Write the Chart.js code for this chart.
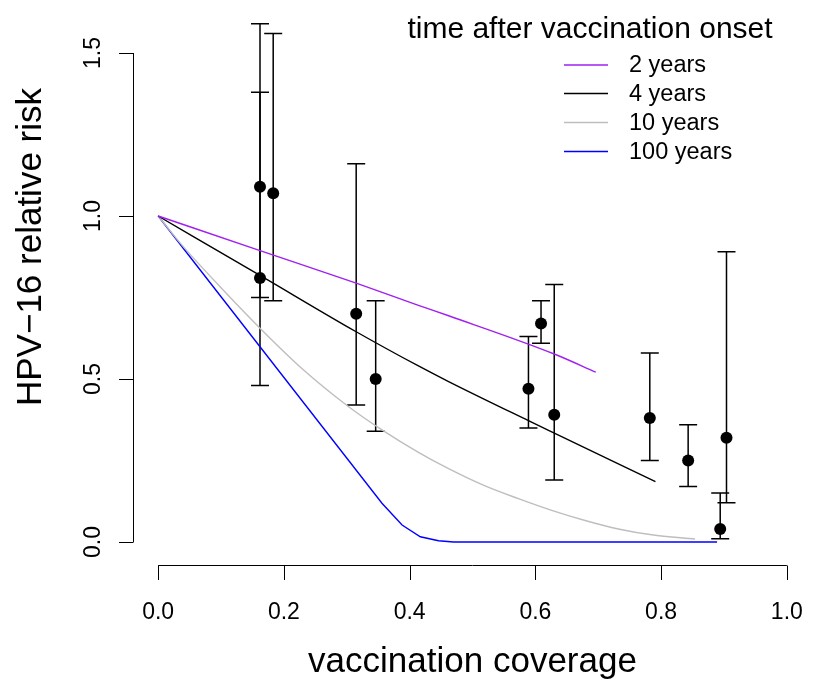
<!DOCTYPE html>
<html>
<head>
<meta charset="utf-8">
<script src="https://cdn.jsdelivr.net/npm/chart.js@4/dist/chart.umd.min.js"></script>
<style>
  body { margin: 0; background: #fff; }
  #wrap { width: 818px; height: 682px; position: relative; }
</style>
</head>
<body>
<div id="wrap"><canvas id="chart"></canvas></div>
<script>
// observed relative risks with confidence limits
const coverage = [0.162, 0.162, 0.183, 0.315, 0.346, 0.589, 0.609, 0.630, 0.782, 0.843, 0.894, 0.904];
const riskObs  = [1.09, 0.81, 1.07, 0.70, 0.50, 0.47, 0.67, 0.39, 0.38, 0.25, 0.04, 0.32];
const riskLow  = [0.48, 0.75, 0.74, 0.42, 0.34, 0.35, 0.61, 0.19, 0.25, 0.17, 0.01, 0.12];
const riskHigh = [1.59, 1.38, 1.56, 1.16, 0.74, 0.63, 0.74, 0.79, 0.58, 0.36, 0.15, 0.89];

// model curves
const yr2X   = [0, 0.162, 0.315, 0.414, 0.462, 0.631, 0.696];
const yr2Y   = [1, 0.894, 0.794, 0.726, 0.694, 0.576, 0.521];
const yr4X   = [0, 0.162, 0.315, 0.414, 0.462, 0.589, 0.631, 0.791];
const yr4Y   = [1, 0.818, 0.645, 0.540, 0.492, 0.372, 0.333, 0.185];
const yr10X  = [0, 0.04, 0.10, 0.162, 0.23, 0.303, 0.356, 0.414, 0.462, 0.52, 0.573, 0.626, 0.679, 0.732, 0.785, 0.854];
const yr10Y  = [1, 0.906, 0.78, 0.656, 0.53, 0.415, 0.344, 0.275, 0.225, 0.172, 0.133, 0.097, 0.066, 0.040, 0.022, 0.009];
const yr100X = [0, 0.162, 0.356, 0.388, 0.417, 0.446, 0.470, 0.889];
const yr100Y = [1, 0.599, 0.119, 0.052, 0.016, 0.004, 0, 0];

const seriesLabels = ['2 years', '4 years', '10 years', '100 years'];
const seriesColors = ['#A020F0', '#000000', '#BEBEBE', '#0000FF'];

const xTicks = [0, 0.2, 0.4, 0.6, 0.8, 1.0];
const yTicks = [0, 0.5, 1.0, 1.5];

const FONT = '"Liberation Sans", Arial, Helvetica, sans-serif';

function pts(xs, ys) {
    return xs.map((x, i) => ({x: x, y: ys[i]}));
}

const curves = [[yr2X, yr2Y], [yr4X, yr4Y], [yr10X, yr10Y], [yr100X, yr100Y]];

const lineSets = curves.map((c, i) => ({
    label: seriesLabels[i],
    data: pts(c[0], c[1]),
    showLine: true,
    borderColor: seriesColors[i],
    borderWidth: 1.4,
    pointRadius: 0,
    cubicInterpolationMode: i === 3 ? 'default' : 'monotone',
    tension: i === 3 ? 0 : 0.4,
    clip: false
}));

const obsSet = {
    label: 'observed',
    data: pts(coverage, riskObs),
    showLine: false,
    pointRadius: 6,
    pointBackgroundColor: '#000',
    pointBorderWidth: 0,
    clip: false
};

// R-style axes, error bars, titles and legend
const rStyle = {
    id: 'rStyle',
    beforeDatasetsDraw(chart) {
        const ctx = chart.ctx;
        const xs = chart.scales.x, ys = chart.scales.y;
        ctx.save();
        ctx.strokeStyle = '#000';
        ctx.lineWidth = 1.5;
        for (let i = 0; i < coverage.length; i++) {
            const px = xs.getPixelForValue(coverage[i]);
            const lo = ys.getPixelForValue(riskLow[i]);
            const hi = ys.getPixelForValue(riskHigh[i]);
            ctx.beginPath();
            ctx.moveTo(px, lo); ctx.lineTo(px, hi);
            ctx.moveTo(px - 9, lo); ctx.lineTo(px + 9, lo);
            ctx.moveTo(px - 9, hi); ctx.lineTo(px + 9, hi);
            ctx.stroke();
        }
        ctx.restore();
    },
    afterDraw(chart) {
        const ctx = chart.ctx;
        const xs = chart.scales.x, ys = chart.scales.y;
        const area = chart.chartArea;
        ctx.save();
        ctx.strokeStyle = '#000';
        ctx.fillStyle = '#000';
        ctx.lineWidth = 1;

        // y axis
        const ax = Math.round(area.left) + 0.5;
        ctx.beginPath();
        ctx.moveTo(ax, ys.getPixelForValue(yTicks[0]));
        ctx.lineTo(ax, ys.getPixelForValue(yTicks[yTicks.length - 1]));
        yTicks.forEach(v => {
            const py = Math.round(ys.getPixelForValue(v)) + 0.5;
            ctx.moveTo(ax, py); ctx.lineTo(ax - 14.5, py);
        });
        ctx.stroke();
        ctx.font = '23px ' + FONT;
        ctx.textAlign = 'center';
        ctx.textBaseline = 'alphabetic';
        yTicks.forEach(v => {
            ctx.save();
            ctx.translate(100, ys.getPixelForValue(v));
            ctx.rotate(-Math.PI / 2);
            ctx.fillText(v.toFixed(1), 0, 0);
            ctx.restore();
        });

        // x axis
        const ay = Math.round(area.bottom) + 0.5;
        ctx.beginPath();
        ctx.moveTo(xs.getPixelForValue(xTicks[0]), ay);
        ctx.lineTo(xs.getPixelForValue(xTicks[xTicks.length - 1]), ay);
        xTicks.forEach(v => {
            const px = Math.round(xs.getPixelForValue(v)) + 0.5;
            ctx.moveTo(px, ay); ctx.lineTo(px, ay + 14.5);
        });
        ctx.stroke();
        xTicks.forEach(v => {
            ctx.fillText(v.toFixed(1), xs.getPixelForValue(v), 619);
        });

        // axis titles
        ctx.font = '35px ' + FONT;
        ctx.fillText('vaccination coverage', (area.left + area.right) / 2, 671.5);
        ctx.save();
        ctx.translate(41, 247);
        ctx.rotate(-Math.PI / 2);
        ctx.fillText('HPV\u221216 relative risk', 0, 0);
        ctx.restore();

        // legend
        ctx.font = '30px ' + FONT;
        ctx.fillText('time after vaccination onset', 590, 38);
        ctx.font = '23.5px ' + FONT;
        ctx.textAlign = 'left';
        ctx.textBaseline = 'middle';
        const legY = [65, 93.5, 122.5, 151.5];
        lineSets.forEach((ds, i) => {
            ctx.strokeStyle = ds.borderColor;
            ctx.lineWidth = 1.5;
            ctx.beginPath();
            ctx.moveTo(564, legY[i]); ctx.lineTo(608, legY[i]);
            ctx.stroke();
            ctx.fillStyle = '#000';
            ctx.fillText(ds.label, 629, legY[i] + 1);
        });
        ctx.restore();
    }
};

new Chart(document.getElementById('chart'), {
    type: 'scatter',
    data: { datasets: [...lineSets, obsSet] },
    options: {
        responsive: true,
        maintainAspectRatio: false,
        animation: false,
        layout: { padding: { left: 133, right: 3, top: 10, bottom: 117 } },
        plugins: { legend: { display: false }, tooltip: { enabled: false } },
        scales: {
            x: { type: 'linear', min: -0.04, max: 1.04, display: false },
            y: { type: 'linear', min: -0.0706, max: 1.632, display: false }
        }
    },
    plugins: [rStyle]
});
</script>
</body>
</html>
